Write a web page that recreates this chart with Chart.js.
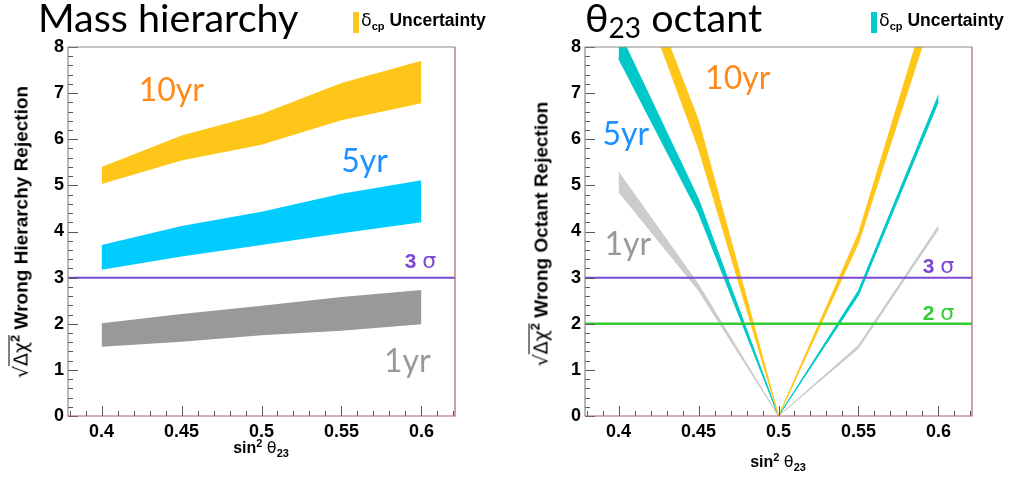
<!DOCTYPE html>
<html>
<head>
<meta charset="utf-8">
<script src="https://cdn.jsdelivr.net/npm/chart.js@4.4.1/dist/chart.umd.min.js"></script>
<style>
  body { margin: 0; background: #fff; }
  #wrap { position: relative; width: 1009px; height: 480px; overflow: hidden; font-family: 'Liberation Sans', Arial, sans-serif; color: #000; }
  canvas { position: absolute; top: 0; }
  #cMH { left: 0; }
  #cOC { left: 500px; }
  .title { position: absolute; top: -3px; font-family: Lato, 'Noto Sans', sans-serif; font-size: 39.5px; line-height: 39.5px; white-space: nowrap; }
  .title .lo { position: relative; top: 6px; font-size: 28px; }
  .legbox { position: absolute; top: 12px; width: 6px; height: 21px; }
  .legtxt { position: absolute; top: 12px; font-size: 17.5px; line-height: 17px; font-weight: bold; white-space: nowrap; }
  .ytitle { position: absolute; font-weight: bold; font-size: 19px; line-height: 24px; white-space: nowrap; transform: translate(-50%, -50%) rotate(-90deg); }
  .xtitle { position: absolute; font-weight: bold; font-size: 16px; line-height: 20px; white-space: nowrap; transform: translate(-50%, -50%); }
  .lo { position: relative; top: 4px; font-size: 11px; }
  .hi { position: relative; top: -6px; font-size: 11px; }
  .ytitle .hi { top: -8px; font-size: 13px; }
  .sym { font-weight: normal; font-family: 'DejaVu Sans', sans-serif; }
  .rad { border-top: 1px solid #000; padding-top: 1px; }
</style>
</head>
<body>
<div id="wrap">
  <canvas id="cMH" width="500" height="480"></canvas>
  <canvas id="cOC" width="509" height="480"></canvas>

  <div class="title" style="left:38px">Mass hierarchy</div>
  <div class="legbox" style="left:353px; background:#ffc61a"></div>
  <div class="legtxt" style="left:361px"><span class="sym">δ</span><span class="lo">cp</span> Uncertainty</div>

  <div class="title" style="left:585px">θ<span class="lo">23</span> octant</div>
  <div class="legbox" style="left:871px; background:#00cccc"></div>
  <div class="legtxt" style="left:879px"><span class="sym">δ</span><span class="lo">cp</span> Uncertainty</div>

  <div class="ytitle" style="left:22px; top:232px"><span class="sym">√</span><span class="rad"><span class="sym">Δχ</span><span class="hi">2</span></span> Wrong Hierarchy Rejection</div>
  <div class="ytitle" style="left:542px; top:234px"><span class="sym">√</span><span class="rad"><span class="sym">Δχ</span><span class="hi">2</span></span> Wrong Octant Rejection</div>

  <div class="xtitle" style="left:261px; top:448px">sin<span class="hi">2</span> <span class="sym">θ</span><span class="lo">23</span></div>
  <div class="xtitle" style="left:778px; top:462px">sin<span class="hi">2</span> <span class="sym">θ</span><span class="lo">23</span></div>
</div>

<script>
// sin^2 theta23 sample points and axis ticks
const xVals = [0.40, 0.45, 0.50, 0.55, 0.60];
const xTicks = [0.4, 0.45, 0.5, 0.55, 0.6];
const yTicks = [0, 1, 2, 3, 4, 5, 6, 7, 8];

// mass hierarchy: upper / lower edge of the delta_cp band
const mh10Hi = [5.40, 6.08, 6.55, 7.22, 7.70];
const mh10Lo = [5.03, 5.54, 5.88, 6.41, 6.78];
const mh5Hi = [3.71, 4.12, 4.43, 4.82, 5.11];
const mh5Lo = [3.17, 3.46, 3.71, 3.96, 4.20];
const mh1Hi = [2.01, 2.21, 2.39, 2.58, 2.73];
const mh1Lo = [1.50, 1.61, 1.75, 1.85, 1.99];

// octant
const oc10Hi = [10.9, 6.40, 0, 3.95, 9.67];
const oc10Lo = [10.5, 5.80, 0, 3.75, 9.10];
const oc5Hi = [8.35, 4.70, 0, 2.72, 6.95];
const oc5Lo = [7.75, 4.40, 0, 2.62, 6.81];
const oc1Hi = [5.29, 2.85, 0, 1.53, 4.12];
const oc1Lo = [4.86, 2.72, 0, 1.47, 4.05];

const sigmaMH = [3];
const sigmaOC = [3, 2];

const X_MIN = 0.379, X_MAX = 0.621;
const sigmaColor = { 3: '#7b48d4', 2: '#33cc33' };

const pts = arr => arr.map((v, i) => ({ x: xVals[i], y: v }));

function band(hi, lo, color, edge) {
  return [
    { data: pts(hi), fill: '+1', backgroundColor: color, borderColor: color, borderWidth: edge, order: 2 },
    { data: pts(lo), fill: false, borderColor: color, borderWidth: edge, order: 2 }
  ];
}

function sigmaLines(levels) {
  return levels.map(v => ({
    data: [{ x: X_MIN, y: v }, { x: X_MAX, y: v }],
    fill: false, borderColor: sigmaColor[v], borderWidth: v === 2 ? 2.5 : 2, order: 0
  }));
}

// ROOT-like frame with inward ticks plus the text notes
const framePlugin = {
  id: 'frame',
  afterDatasetsDraw(chart, args, opts) {
    const { ctx, chartArea: a, scales: { x, y } } = chart;
    ctx.save();
    ctx.strokeStyle = '#555';
    ctx.lineWidth = 1;
    ctx.beginPath();
    for (let k = 0; k <= 40; k++) {
      const py = Math.round(y.getPixelForValue(k * 0.2)) + 0.5;
      const len = k % 5 === 0 ? 10 : 5;
      ctx.moveTo(a.left, py);
      ctx.lineTo(a.left + len, py);
    }
    for (let k = 38; k <= 62; k++) {
      const px = Math.round(x.getPixelForValue(k / 100)) + 0.5;
      const len = k % 5 === 0 ? 10 : 5;
      ctx.moveTo(px, a.bottom);
      ctx.lineTo(px, a.bottom - len);
    }
    ctx.stroke();

    ctx.lineWidth = 1.2;
    ctx.strokeStyle = '#8a8a8a';
    ctx.beginPath();
    ctx.moveTo(a.left, a.bottom);
    ctx.lineTo(a.left, a.top);
    ctx.lineTo(a.right, a.top);
    ctx.stroke();
    ctx.strokeStyle = '#b5606a';
    ctx.beginPath();
    ctx.moveTo(a.right, a.top);
    ctx.lineTo(a.right, a.bottom);
    ctx.lineTo(a.left, a.bottom);
    ctx.stroke();

    ctx.textBaseline = 'alphabetic';
    opts.notes.forEach(n => {
      const px = x.getPixelForValue(n.x);
      const py = y.getPixelForValue(n.y);
      let w = 0;
      n.parts.forEach(p => { ctx.font = p[0]; w += ctx.measureText(p[1]).width; });
      let cx = n.align === 'center' ? px - w / 2 : px;
      ctx.fillStyle = n.color;
      n.parts.forEach(p => {
        ctx.font = p[0];
        ctx.textAlign = 'left';
        ctx.fillText(p[1], cx, py);
        cx += ctx.measureText(p[1]).width;
      });
    });
    ctx.restore();
  }
};

const yrFont = '32px Lato';
const mhNotes = [
  { parts: [[yrFont, '10yr']], x: 0.4436, y: 6.83, color: '#ff8a1c', align: 'center' },
  { parts: [[yrFont, '5yr']], x: 0.5644, y: 5.30, color: '#1e90ff', align: 'center' },
  { parts: [[yrFont, '1yr']], x: 0.5912, y: 0.96, color: '#999999', align: 'center' },
  { parts: [['bold 21px "Liberation Sans"', '3 '], ['22px "DejaVu Sans"', 'σ']], x: 0.5896, y: 3.21, color: sigmaColor[3], align: 'left' }
];
const ocNotes = [
  { parts: [[yrFont, '10yr']], x: 0.4745, y: 7.10, color: '#ff8a1c', align: 'center' },
  { parts: [[yrFont, '5yr']], x: 0.4045, y: 5.87, color: '#1e90ff', align: 'center' },
  { parts: [[yrFont, '1yr']], x: 0.4058, y: 3.49, color: '#999999', align: 'center' },
  { parts: [['bold 21px "Liberation Sans"', '3 '], ['22px "DejaVu Sans"', 'σ']], x: 0.5902, y: 3.09, color: sigmaColor[3], align: 'left' },
  { parts: [['bold 21px "Liberation Sans"', '2 '], ['22px "DejaVu Sans"', 'σ']], x: 0.5902, y: 2.08, color: sigmaColor[2], align: 'left' }
];

function makeChart(id, datasets, yWidth, padRight, notes) {
  const tickFont = { family: '"Liberation Sans", Arial, sans-serif', size: 18, weight: 'bold' };
  return new Chart(document.getElementById(id), {
    type: 'line',
    data: { datasets: datasets },
    options: {
      responsive: false,
      devicePixelRatio: 1,
      animation: false,
      layout: { padding: { left: 0, right: padRight, top: 47, bottom: 0 } },
      elements: { point: { radius: 0 }, line: { tension: 0 } },
      scales: {
        x: {
          type: 'linear', min: X_MIN, max: X_MAX,
          grid: { display: false, drawTicks: false },
          border: { display: false },
          afterBuildTicks: s => { s.ticks = xTicks.map(v => ({ value: v })); },
          afterFit: s => { s.height = 64; },
          ticks: { color: '#000', font: tickFont, padding: 5, autoSkip: false, maxRotation: 0, callback: v => String(v) }
        },
        y: {
          type: 'linear', min: 0, max: 8,
          grid: { display: false, drawTicks: false },
          border: { display: false },
          afterBuildTicks: s => { s.ticks = yTicks.map(v => ({ value: v })); },
          afterFit: s => { s.width = yWidth; },
          ticks: { color: '#000', font: tickFont, padding: 4, callback: v => String(v) }
        }
      },
      plugins: { legend: { display: false }, tooltip: { enabled: false }, frame: { notes: notes } }
    },
    plugins: [framePlugin]
  });
}

makeChart('cMH', [
  ...sigmaLines(sigmaMH),
  ...band(mh10Hi, mh10Lo, '#ffc61a', 0),
  ...band(mh5Hi, mh5Lo, '#00ccff', 0),
  ...band(mh1Hi, mh1Lo, '#999999', 0)
], 68, 45, mhNotes);

makeChart('cOC', [
  ...sigmaLines(sigmaOC),
  ...band(oc10Hi, oc10Lo, '#ffc61a', 1),
  ...band(oc5Hi, oc5Lo, '#00c8c8', 1),
  ...band(oc1Hi, oc1Lo, '#cccccc', 1)
], 85, 37, ocNotes);
</script>
</body>
</html>
